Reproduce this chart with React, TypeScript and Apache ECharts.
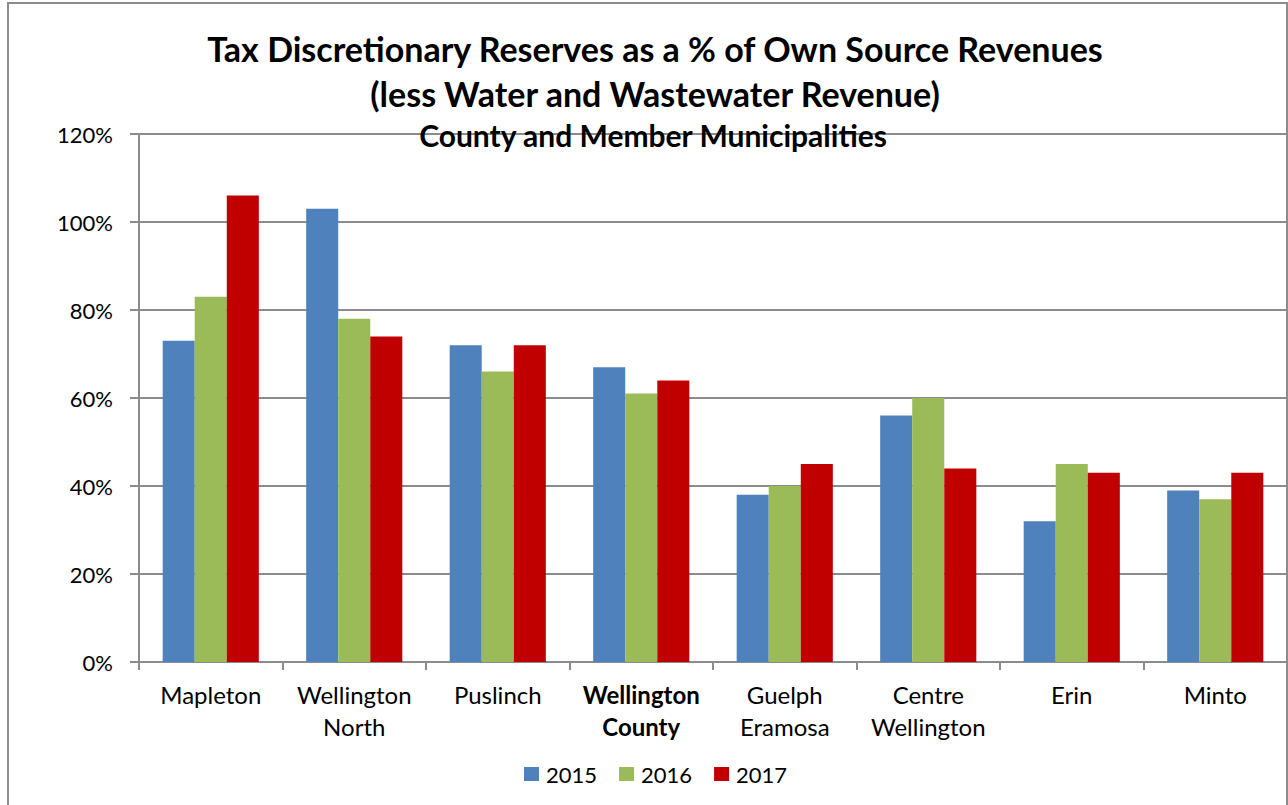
import React, { useEffect, useRef } from "react";
import * as echarts from "echarts";

const categories = [
  "Mapleton",
  "Wellington\nNorth",
  "Puslinch",
  "Wellington\nCounty",
  "Guelph\nEramosa",
  "Centre\nWellington",
  "Erin",
  "Minto",
];
const boldCategory = "Wellington\nCounty";
const seriesNames = ["2015", "2016", "2017"];
const values2015 = [73, 103, 72, 67, 38, 56, 32, 39];
const values2016 = [83, 78, 66, 61, 40, 60, 45, 37];
const values2017 = [106, 74, 72, 64, 45, 44, 43, 43];
const colors = ["#4F81BD", "#9BBB59", "#C00000"];
const yTicks = { min: 0, max: 120, interval: 20 };
const titleLines = [
  "Tax Discretionary Reserves as a % of Own Source Revenues",
  "(less Water and Wastewater Revenue)",
];
const subtitle = "County and Member Municipalities";

const FONT = "Lato";

export default function App() {
  const ref = useRef<HTMLDivElement>(null);
  useEffect(() => {
    if (!ref.current) return;
    const chart = echarts.init(ref.current, null, { renderer: "svg" });
    const data = [values2015, values2016, values2017];
    chart.setOption({
      animation: false,
      backgroundColor: "#ffffff",
      textStyle: { fontFamily: FONT },
      title: [
        {
          text: titleLines.join("\n"),
          left: 650,
          textAlign: "center",
          top: 21,
          textStyle: {
            fontFamily: FONT,
            fontWeight: "bold",
            fontSize: 34,
            lineHeight: 45,
            color: "#000",
          },
        },
        {
          text: subtitle,
          left: 648,
          textAlign: "center",
          top: 113,
          textStyle: {
            fontFamily: FONT,
            fontWeight: "bold",
            fontSize: 30,
            lineHeight: 34,
            color: "#000",
          },
        },
      ],
      legend: {
        data: seriesNames,
        left: 519,
        top: 758,
        itemWidth: 15,
        itemHeight: 14,
        itemGap: 22,
        icon: "rect",
        textStyle: { fontFamily: FONT, fontSize: 22, color: "#000", padding: [0, 0, 0, 2] },
      },
      grid: { left: 139, right: 1, top: 134, bottom: 143, containLabel: false },
      xAxis: {
        type: "category",
        data: categories,
        axisLine: { lineStyle: { color: "#8c8c8c", width: 2 } },
        axisTick: { show: true, length: 8, lineStyle: { color: "#8c8c8c", width: 2 } },
        axisLabel: {
          interval: 0,
          margin: 16,
          fontFamily: FONT,
          fontSize: 24,
          lineHeight: 32,
          color: "#000",
          formatter: (v: string) => {
            if (v === boldCategory) {
              return v
                .split("\n")
                .map((s) => "{b|" + s + "}")
                .join("\n");
            }
            return v;
          },
          rich: {
            b: { fontFamily: FONT, fontSize: 24, fontWeight: "bold", lineHeight: 32, color: "#000" },
          },
        },
      },
      yAxis: {
        type: "value",
        min: yTicks.min,
        max: yTicks.max,
        interval: yTicks.interval,
        axisLine: { show: true, lineStyle: { color: "#8c8c8c", width: 2 } },
        axisTick: { show: true, length: 9, lineStyle: { color: "#8c8c8c", width: 2 } },
        axisLabel: {
          formatter: "{value}%",
          margin: 26,
          fontFamily: FONT,
          fontSize: 22,
          color: "#000",
        },
        splitLine: { show: true, lineStyle: { color: "#8c8c8c", width: 2 } },
      },
      series: seriesNames.map((name, i) => ({
        name,
        type: "bar",
        data: data[i],
        barGap: "0%",
        barCategoryGap: "33%",
        itemStyle: { color: colors[i] },
      })),
      graphic: [
        {
          type: "rect",
          shape: { x: 8, y: 3, width: 1279, height: 900 },
          style: { fill: "none", stroke: "#8c8c8c", lineWidth: 2 },
          silent: true,
          z: 100,
        },
      ],
    });
    return () => chart.dispose();
  }, []);
  return (
    <div
      ref={ref}
      style={{ position: "absolute", left: 0, top: 0, width: 1288, height: 805 }}
    />
  );
}
